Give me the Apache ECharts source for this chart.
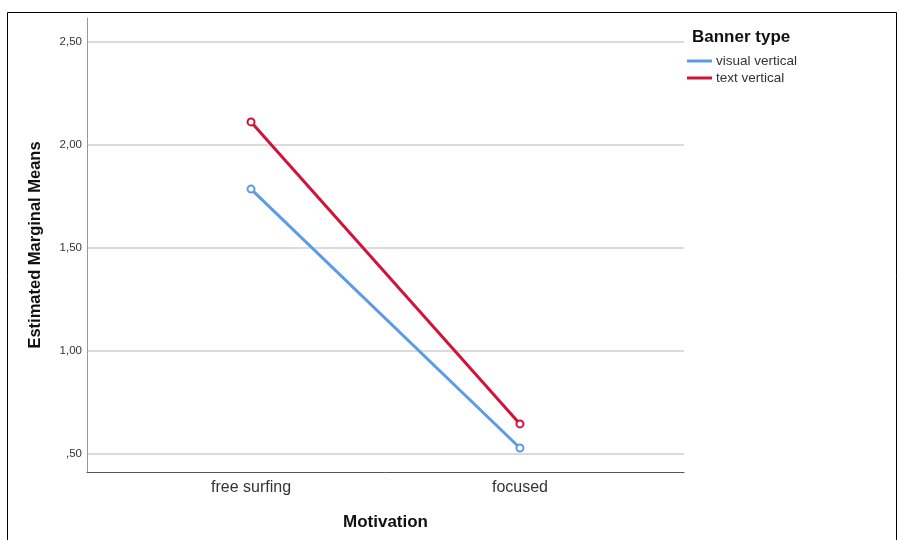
<!DOCTYPE html>
<html><head><meta charset="utf-8">
<script src="https://cdn.jsdelivr.net/npm/echarts@6/dist/echarts.min.js"></script>
<style>html,body{margin:0;padding:0;background:#fff}#c{width:903px;height:540px}</style>
</head><body><div id="c"></div>
<script>
const categories = ['free surfing', 'focused'];
const seriesNames = ['visual vertical', 'text vertical'];
const visualVertical = [1.786, 0.529];
const textVertical = [2.112, 0.646];
const yTicks = [0.5, 1.0, 1.5, 2.0, 2.5];
const colors = ['#5b9be8', '#d2123a'];

const chart = echarts.init(document.getElementById('c'), null, {renderer: 'canvas'});
const toPts = arr => arr.map((v, i) => [i + 1, v]);
const FONT = '"Liberation Sans", Arial, sans-serif';
chart.setOption({
  animation: false,
  backgroundColor: '#fff',
  title: {
    text: 'Banner type', left: 687, top: 24,
    textStyle: {fontFamily: FONT, fontSize: 17, fontWeight: 'bold', color: '#111'}
  },
  legend: {
    orient: 'vertical', left: 682, top: 49, itemGap: 3,
    itemWidth: 25, itemHeight: 3, icon: 'rect',
    data: seriesNames,
    textStyle: {fontFamily: FONT, fontSize: 13.5, lineHeight: 14, color: '#333', padding: [0, 0, 0, -1]}
  },
  grid: {left: 87, top: 18, right: 219, bottom: 68},
  graphic: [{
    type: 'rect', shape: {x: 7.5, y: 12.5, width: 889, height: 540},
    style: {fill: 'none', stroke: '#000', lineWidth: 1}, silent: true
  }],
  xAxis: {
    type: 'value', min: 0.39, max: 2.61,
    name: 'Motivation', nameLocation: 'middle', nameGap: 42,
    nameTextStyle: {fontFamily: FONT, fontSize: 17, fontWeight: 'bold', color: '#111'},
    axisLine: {show: true, lineStyle: {color: '#555', width: 1}},
    axisTick: {show: false},
    splitLine: {show: false},
    axisLabel: {
      customValues: [1, 2], margin: 8,
      formatter: v => categories[Math.round(v) - 1] || '',
      fontFamily: FONT, fontSize: 16, color: '#333'
    }
  },
  yAxis: {
    type: 'value', min: 0.4126, max: 2.6165,
    name: 'Estimated Marginal Means', nameLocation: 'middle', nameGap: 43, nameRotate: 90,
    nameTextStyle: {fontFamily: FONT, fontSize: 16.5, fontWeight: 'bold', color: '#111'},
    axisLine: {show: true, lineStyle: {color: '#999', width: 1}},
    axisTick: {show: false},
    splitLine: {show: true, showMinLine: false, showMaxLine: false, lineStyle: {color: '#cfcfcf', width: 1.5}},
    axisLabel: {
      showMinLabel: false, showMaxLabel: false, margin: 5,
      fontFamily: FONT, fontSize: 11.5, color: '#333',
      formatter: v => {
        if (!yTicks.some(t => Math.abs(t - v) < 1e-6)) return '';
        let s = v.toFixed(2).replace('.', ',');
        if (s.startsWith('0')) s = s.slice(1);
        return s;
      }
    }
  },
  series: [
    {name: seriesNames[0], type: 'line', data: toPts(visualVertical), color: colors[0],
     symbol: 'emptyCircle', symbolSize: 7, lineStyle: {width: 3}, itemStyle: {borderWidth: 1.5}},
    {name: seriesNames[1], type: 'line', data: toPts(textVertical), color: colors[1],
     symbol: 'emptyCircle', symbolSize: 7, lineStyle: {width: 3}, itemStyle: {borderWidth: 1.5}}
  ]
});
</script></body></html>
